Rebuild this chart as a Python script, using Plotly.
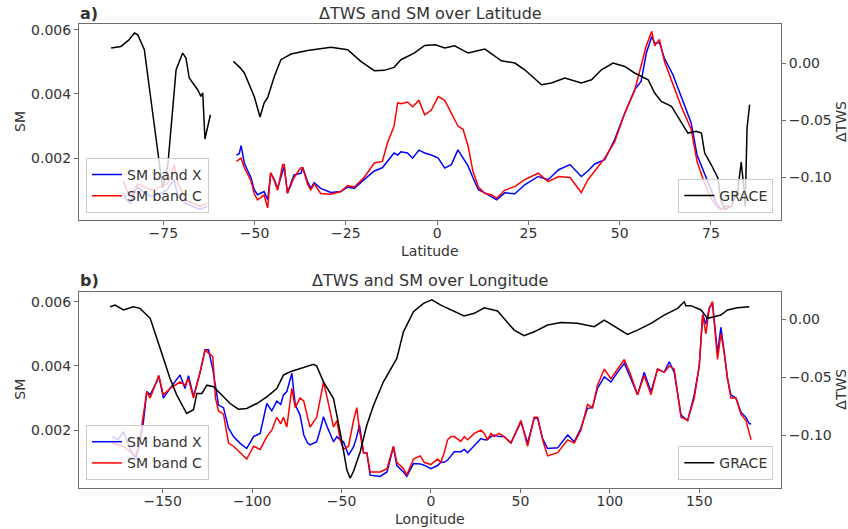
import plotly.graph_objects as go

# ---------------- Panel a: latitude ----------------
lat_grace = [-89.3, -86.6, -84.5, -82.9, -82.0, -80.2, -78.4, -76.5, -75.2, -73.8, -72.4, -71.5,
             -69.7, -68.8, -67.9, -66.5, -65.6, -64.7, -64.2, -63.6, -62.1, -59.0,
             -55.8, -54.0, -52.8, -50.1, -48.5, -47.4, -46.4, -44.6, -42.8, -40.0, -35.5, -29.1,
             -24.5, -20.9, -17.2, -14.5, -11.8, -9.9, -6.3, -3.4, -0.5, 2.1, 4.8, 8.5, 13.1, 17.6,
             21.3, 24.0, 28.6, 31.3, 35.0, 39.5, 42.3, 45.0, 48.2, 51.4, 54.1, 57.8, 59.6, 61.4,
             64.2, 66.9, 68.7, 71.0, 72.4, 73.3, 75.1, 76.9, 77.7, 78.8, 80.6, 82.4, 83.3, 84.0,
             84.4, 84.9, 85.6]
tws_lat = [0.0131, 0.0145, 0.020, 0.0262, 0.0247, 0.0116, -0.0321, -0.0758, -0.109, -0.0904, -0.041, -0.0059,
           0.0087, 0.0044, -0.0131, -0.019, -0.0233, -0.0292, -0.026, -0.0664, -0.0452, None,
           0.0014, -0.004, -0.0087, -0.0292, -0.0472, -0.035, -0.030, -0.0117, 0.0029, 0.0079, 0.011, 0.0137,
           0.0116, 0.0014, -0.0067, -0.0064, -0.0038, 0.0029, 0.0087, 0.0154, 0.0160, 0.0131, 0.0151, 0.0087, 0.0122, 0.002,
           0.0, -0.0059, -0.019, -0.0175, -0.0131, -0.0175, -0.0146, -0.0059, 0.0, -0.003, -0.0087, -0.0146, -0.0262, -0.0335,
           -0.0379, -0.0524, -0.0612, -0.0597, -0.0612, -0.0787, -0.0889, -0.1005, -0.1195, -0.128, -0.125, -0.1107, -0.0865, -0.108,
           -0.125, -0.0568, -0.0364]

lat_sm = [-86, -85, -84, -83, -82, -80, -78, -76, -74, -73, -72, -71, -70, -69, -67, -65, -63, -59,
          -55.0, -54.2, -53.7, -52.8, -52.0, -51.0, -50.1, -49.2, -47.4, -46.4, -45.6, -44.6, -43.7,
          -42.3, -41.9, -41.0, -39.2, -37.3, -36.8, -35.5, -34.6, -33.7, -31.9, -29.1, -26.4, -24.5,
          -22.7, -20.0, -17.2, -15.0, -13.6, -11.8, -10.8, -9.9, -8.1, -6.7, -5.0, -3.4, -1.6, 0.3,
          2.1, 3.9, 5.7, 7.1, 8.5, 9.8, 11.3, 13.1, 14.9, 16.3, 18.5, 21.3, 24.0, 27.7, 30.4, 33.3,
          36.4, 39.5, 41.3, 43.2, 45.9, 48.6, 51.4, 54.1, 55.9, 57.3, 58.8, 59.6, 60.9, 62.3, 64.6,
          66.9, 69.6, 71.2, 73.0, 74.8, 76.5, 77.7, 79.0, 80.0]
sm_x_lat = [0.0009, 0.0007, 0.0006, 0.0009, 0.0011, 0.0009, 0.0008, 0.0009, 0.0010, 0.0012, 0.0013, 0.0008, 0.0007, 0.0006, 0.0005, 0.0004, 0.0005, None,
            0.0021, 0.00214, 0.00239, 0.00185, 0.00164, 0.0014, 0.00102, 0.00086, 0.00096, 0.0007, 0.00153, 0.00133, 0.00107,
            0.0016, 0.00174, 0.00092, 0.00148, 0.00153, 0.0017, 0.00127, 0.00106, 0.00124, 0.00106, 0.00093, 0.00096, 0.0011,
            0.00106, 0.00133, 0.0016, 0.0017, 0.0019, 0.00216, 0.0021, 0.0022, 0.00216, 0.0020, 0.00225, 0.00216, 0.0021, 0.0020,
            0.00169, 0.0018, 0.00226, 0.0020, 0.00175, 0.0014, 0.00102, 0.00092, 0.0008, 0.0007, 0.00092, 0.00089, 0.00117, 0.00143, 0.00133, 0.00164,
            0.0018, 0.00143, 0.0016, 0.00182, 0.00195, 0.00257, 0.0034, 0.00413, 0.0044, 0.00527, 0.00579, 0.00558, 0.0056, 0.0051, 0.0046,
            0.0039, 0.0031, 0.0021, 0.0016, 0.0011, 0.0006, 0.0004, 0.0005, 0.0005]
sm_c_lat = [0.0013, 0.0010, 0.0008, 0.0010, 0.0012, 0.0011, 0.0010, 0.0011, 0.0012, 0.0014, 0.0018, 0.0012, 0.0010, 0.0007, 0.0006, 0.0005, 0.0006, None,
            0.0019, 0.00195, 0.0020, 0.0017, 0.0015, 0.0013, 0.0009, 0.0007, 0.00085, 0.00045, 0.00155, 0.0013, 0.0010,
            0.0018, 0.0018, 0.0009, 0.0014, 0.0017, 0.0017, 0.0012, 0.0010, 0.0012, 0.0009, 0.00088, 0.00096, 0.00115,
            0.0011, 0.0014, 0.00185, 0.0019, 0.00247, 0.0030, 0.00372, 0.0037, 0.00375, 0.0036, 0.0038, 0.00335, 0.0035, 0.00392,
            0.0038, 0.0034, 0.0030, 0.0029, 0.00237, 0.0016, 0.0011, 0.0009, 0.00086, 0.00075, 0.0010, 0.00112, 0.00133, 0.00153, 0.00127, 0.00143,
            0.0014, 0.00093, 0.00133, 0.0016, 0.0020, 0.0025, 0.0034, 0.0041, 0.0049, 0.0055, 0.00595, 0.0055, 0.0057, 0.0050, 0.0043,
            0.0036, 0.0029, 0.0019, 0.0013, 0.0008, 0.0005, 0.0004, 0.0005, 0.0005]

# ---------------- Panel b: longitude ----------------
lon_grace = [-179.4, -176.6, -172.0, -166.4, -162.7, -157.0, -153.3, -149.6, -145.9, -142.1, -138.4, -136.6,
             -132.8, -130.9, -128.1, -125.3, -121.6, -117.9, -112.3, -107.7, -103.0, -97.4, -91.8, -86.2,
             -82.5, -78.7, -73.2, -65.7, -63.9, -60.1, -54.5, -50.8, -47.0, -45.2, -43.3, -39.6, -35.9,
             -32.1, -26.6, -19.1, -15.4, -9.8, -4.2, 0.5, 5.5, 14.8, 18.5, 24.2, 29.8, 37.2, 40.9, 46.5,
             52.1, 57.7, 65.2, 72.6, 81.9, 91.3, 96.9, 104.3, 109.9, 115.5, 123.0, 130.4, 137.9, 141.6,
             142.5, 145.3, 151.0, 154.6, 158.4, 162.1, 165.8, 171.4, 178.0]
tws_lon = [0.0106, 0.012, 0.0078, 0.0106, 0.0092, 0.0006, -0.0166, -0.0339, -0.0511, -0.0655, -0.077, -0.0813,
           -0.078, -0.064, -0.064, -0.0569, -0.0583, -0.064, -0.0727, -0.0776, -0.077, -0.0727, -0.067, -0.0598,
           -0.0483, -0.0454, -0.0425, -0.039, -0.0405, -0.054, -0.0684, -0.0971, -0.130, -0.137, -0.131, -0.1144, -0.0914,
           -0.0741, -0.054, -0.0339, -0.011, 0.0063, 0.0135, 0.0165, 0.012, 0.0049, 0.0026, 0.0049, 0.0097, 0.0069, 0.0006, -0.0095,
           -0.0144, -0.011, -0.0052, -0.0029, -0.0037, -0.0066, -0.0009, -0.008, -0.0132, -0.0095, -0.0037, 0.0034, 0.0092, 0.0149,
           0.0115, 0.0115, 0.0078, 0.0006, 0.002, 0.0034, 0.0078, 0.0097, 0.0106]

lon_sm = [-178.5, -175.0, -172.0, -167.6, -165.0, -162.6, -160.8, -158.9, -157.0, -153.3, -152.2, -149.6,
          -145.9, -140.3, -137.5, -135.6, -132.8, -129.1, -126.3, -124.4, -122.0, -120.5, -118.8, -116.0,
          -113.2, -110.4, -106.7, -103.0, -99.2, -95.5, -91.8, -89.0, -86.2, -84.0, -82.5, -80.6, -77.8,
          -75.9, -73.2, -71.1, -69.0, -67.6, -63.9, -62.0, -60.1, -58.0, -56.4, -54.5, -52.6, -50.8,
          -48.9, -46.1, -43.3, -41.5, -40.0, -37.7, -35.9, -34.0, -28.4, -24.6, -21.0, -19.1, -15.4,
          -13.5, -9.8, -6.0, -3.8, -0.1, 3.7, 5.5, 7.4, 9.3, 11.2, 13.0, 16.7, 18.6, 20.5, 24.2, 27.9,
          29.8, 31.6, 33.5, 35.4, 38.0, 40.9, 44.7, 50.3, 54.0, 57.7, 59.6, 62.4, 65.2, 70.8, 76.4,
          80.1, 83.8, 87.5, 90.3, 93.1, 96.9, 100.6, 104.3, 108.1, 111.8, 115.5, 119.2, 123.0, 126.7,
          130.4, 133.2, 136.0, 139.8, 143.5, 147.2, 150.0, 151.9, 153.7, 155.6, 157.4, 160.2, 162.1,
          164.0, 165.8, 167.7, 170.5, 173.3, 176.1, 178.0, 179.0]
sm_x_lon = [0.0018, 0.0017, 0.00195, 0.00133, 0.0011, 0.00164, 0.00226, 0.0032, 0.0031, 0.00351, 0.0037, 0.0030,
            0.0033, 0.00372, 0.0033, 0.0037, 0.00305, 0.0038, 0.0045, 0.0045, 0.0039, 0.0033, 0.00278, 0.0027,
            0.00206, 0.0018, 0.00159, 0.00143, 0.0018, 0.0019, 0.00283, 0.0026, 0.0029, 0.0028, 0.0031, 0.0032, 0.00377,
            0.0028, 0.00247, 0.00185, 0.0016, 0.00154, 0.00164, 0.0020, 0.00242, 0.0021, 0.0019, 0.00164, 0.0018, 0.0017,
            0.00164, 0.00122, 0.00148, 0.0018, 0.00216, 0.0013, 0.0013, 0.0006, 0.00056, 0.0007, 0.00148, 0.0009, 0.0007,
            0.00056, 0.00096, 0.00095, 0.00091, 0.0008, 0.0009, 0.0010, 0.0010, 0.00107, 0.0012, 0.00133, 0.00133, 0.0014, 0.0013, 0.00153, 0.00174,
            0.0017, 0.0017, 0.0018, 0.00185, 0.0018, 0.0018, 0.0016, 0.00226, 0.0016, 0.00237, 0.00237, 0.00174, 0.00143, 0.00145, 0.00185,
            0.00164, 0.00206, 0.00268, 0.0027, 0.0033, 0.00366, 0.0035, 0.0038, 0.00408, 0.0036, 0.0031, 0.0038, 0.0032, 0.0039,
            0.0038, 0.00413, 0.0038, 0.00247, 0.0023, 0.0031, 0.0040, 0.00559, 0.0053, 0.0058, 0.00595, 0.0044, 0.0052,
            0.0044, 0.0036, 0.0031, 0.0030, 0.00256, 0.0024, 0.0022, 0.0022]
sm_c_lon = [0.0016, 0.00155, 0.0015, 0.0013, 0.0012, 0.0018, 0.0025, 0.0032, 0.0030, 0.0035, 0.0037, 0.0031,
            0.0033, 0.0035, 0.0034, 0.0036, 0.0030, 0.0038, 0.0045, 0.0044, 0.0043, 0.0030, 0.0026, 0.0025,
            0.0016, 0.0015, 0.0013, 0.0011, 0.0015, 0.0014, 0.0018, 0.0020, 0.0024, 0.0022, 0.0024, 0.0021, 0.0033,
            0.0027, 0.0030, 0.0029, 0.0024, 0.0021, 0.0024, 0.0030, 0.0035, 0.0030, 0.0026, 0.0021, 0.0023, 0.0017,
            0.0014, 0.0015, 0.0023, 0.0027, 0.0020, 0.0013, 0.0013, 0.0007, 0.0007, 0.0008, 0.0015, 0.0010, 0.0008,
            0.0006, 0.0011, 0.0012, 0.0010, 0.00093, 0.0011, 0.0010, 0.0013, 0.0017, 0.0018, 0.0018, 0.00165, 0.0018, 0.0017, 0.0019, 0.0020,
            0.0019, 0.0017, 0.0019, 0.0018, 0.0019, 0.0018, 0.0016, 0.0023, 0.0015, 0.0024, 0.0024, 0.0017, 0.0012, 0.0013, 0.0017,
            0.0016, 0.0020, 0.0028, 0.0027, 0.0034, 0.0039, 0.0036, 0.0039, 0.0042, 0.0037, 0.0031, 0.0037, 0.0031, 0.0039,
            0.0038, 0.0040, 0.0039, 0.0024, 0.0023, 0.0030, 0.0040, 0.0056, 0.0050, 0.0058, 0.0060, 0.0042, 0.0050,
            0.0044, 0.0036, 0.0030, 0.0030, 0.0025, 0.0023, 0.0019, 0.0017]

lat_ticks = [-75, -50, -25, 0, 25, 50, 75]
lon_ticks = [-150, -100, -50, 0, 50, 100, 150]
sm_ticks = [0.002, 0.004, 0.006]
tws_ticks = [-0.10, -0.05, 0.00]

def fmt_int(v):
    return ("\u2212" + str(abs(v))) if v < 0 else str(v)

def fmt_tws(v):
    s = "%.2f" % abs(v)
    return ("\u2212" + s) if v < 0 else s

TXT = "#333333"
FRAME = "#6e6e6e"
FONT = "DejaVu Sans"

fig = go.Figure()

# panel a traces
fig.add_trace(go.Scatter(x=lat_sm, y=sm_x_lat, mode="lines", name="SM band X",
                         line=dict(color="blue", width=1.5), xaxis="x", yaxis="y", legend="legend"))
fig.add_trace(go.Scatter(x=lat_sm, y=sm_c_lat, mode="lines", name="SM band C",
                         line=dict(color="red", width=1.5), xaxis="x", yaxis="y", legend="legend"))
fig.add_trace(go.Scatter(x=lat_grace, y=tws_lat, mode="lines", name="GRACE",
                         line=dict(color="black", width=1.5), xaxis="x", yaxis="y2", legend="legend2"))
# panel b traces
fig.add_trace(go.Scatter(x=lon_sm, y=sm_x_lon, mode="lines", name="SM band X",
                         line=dict(color="blue", width=1.5), xaxis="x2", yaxis="y3", legend="legend3"))
fig.add_trace(go.Scatter(x=lon_sm, y=sm_c_lon, mode="lines", name="SM band C",
                         line=dict(color="red", width=1.5), xaxis="x2", yaxis="y3", legend="legend3"))
fig.add_trace(go.Scatter(x=lon_grace, y=tws_lon, mode="lines", name="GRACE",
                         line=dict(color="black", width=1.5), xaxis="x2", yaxis="y4", legend="legend4"))

axis_common = dict(showgrid=False, zeroline=False, showline=True, linecolor=FRAME, linewidth=1,
                   ticks="outside", ticklen=4, tickcolor=FRAME, tickfont=dict(size=14, color=TXT, family=FONT))

dom_a = [0.578, 1.0]
dom_b = [0.0, 0.423]

legend_common = dict(bgcolor="rgba(255,255,255,0.8)", bordercolor="#cccccc", borderwidth=1,
                     font=dict(size=14, color=TXT, family=FONT), itemwidth=30, tracegroupgap=0)

fig.update_layout(
    width=848, height=529,
    margin=dict(l=79, r=67, t=24, b=41),
    paper_bgcolor="white", plot_bgcolor="white",
    font=dict(family=FONT, color=TXT, size=14),
    xaxis=dict(axis_common, domain=[0, 1], anchor="y", range=[-98.1, 94.2], mirror=True,
               ticklabelstandoff=-4,
               tickvals=lat_ticks, ticktext=[fmt_int(v) for v in lat_ticks]),
    yaxis=dict(axis_common, domain=dom_a, anchor="x", range=[0.00008, 0.00618], mirror=False,
               tickvals=sm_ticks, ticktext=["%.3f" % v for v in sm_ticks]),
    yaxis2=dict(axis_common, overlaying="y", side="right", anchor="x", range=[-0.137, 0.0341],
                tickvals=tws_ticks, ticktext=[fmt_tws(v) for v in tws_ticks]),
    xaxis2=dict(axis_common, domain=[0, 1], anchor="y3", range=[-196.8, 195.7], mirror=True,
                ticklabelstandoff=-4,
                tickvals=lon_ticks, ticktext=[fmt_int(v) for v in lon_ticks]),
    yaxis3=dict(axis_common, domain=dom_b, anchor="x2", range=[0.0002, 0.00631], mirror=False,
                tickvals=sm_ticks, ticktext=["%.3f" % v for v in sm_ticks]),
    yaxis4=dict(axis_common, overlaying="y3", side="right", anchor="x2", range=[-0.1454, 0.0235],
                tickvals=tws_ticks, ticktext=[fmt_tws(v) for v in tws_ticks]),
    legend=dict(legend_common, x=0.01, y=0.593, xanchor="left", yanchor="bottom"),
    legend2=dict(legend_common, x=0.989, y=0.593, xanchor="right", yanchor="bottom"),
    legend3=dict(legend_common, x=0.01, y=0.017, xanchor="left", yanchor="bottom"),
    legend4=dict(legend_common, x=0.989, y=0.017, xanchor="right", yanchor="bottom"),
    showlegend=True,
)

ann = []
def add_text(text, x, y, size=14, angle=0, xanchor="center", bold=False):
    ann.append(dict(text=("<b>%s</b>" % text) if bold else text, x=x, y=y, xref="paper", yref="paper",
                    showarrow=False, xanchor=xanchor, yanchor="middle", textangle=angle,
                    font=dict(size=size, color=TXT, family=FONT)))

add_text("\u0394TWS and SM over Latitude", 0.5, 1.0237, size=16)
add_text("a)", -0.002, 1.0237, size=16, xanchor="left", bold=True)
add_text("\u0394TWS and SM over Longitude", 0.5, 0.448, size=16)
add_text("b)", -0.002, 0.448, size=16, xanchor="left", bold=True)
add_text("Latitude", 0.5, 0.511, size=14)
add_text("Longitude", 0.5, -0.066, size=14)
add_text("SM", -0.084, 0.789, size=14, angle=-90)
add_text("SM", -0.084, 0.212, size=14, angle=-90)
add_text("\u0394TWS", 1.0855, 0.789, size=14, angle=-90)
add_text("\u0394TWS", 1.0855, 0.212, size=14, angle=-90)
fig.update_layout(annotations=ann)

fig.write_html("out.html")
